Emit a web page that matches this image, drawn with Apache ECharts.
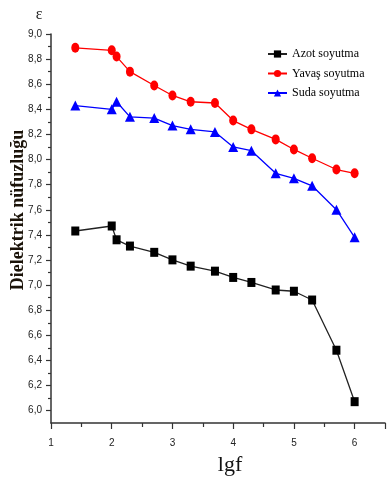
<!DOCTYPE html>
<html>
<head>
<meta charset="utf-8">
<script src="https://cdn.jsdelivr.net/npm/echarts@6/dist/echarts.min.js"></script>
<style>
  html, body { margin: 0; padding: 0; background: #fff; }
  #chart { width: 388px; height: 483px; }
</style>
</head>
<body>
<div id="chart"></div>
<script>
// log10 of the measurement frequency (Hz)
const lgf = [1.4, 2.0, 2.08, 2.3, 2.7, 3.0, 3.3, 3.7, 4.0, 4.3, 4.7, 5.0, 5.3, 5.7, 6.0];

// dielectric permittivity for each cooling regime
const azot  = [7.43, 7.47, 7.36, 7.31, 7.26, 7.20, 7.15, 7.11, 7.06, 7.02, 6.96, 6.95, 6.88, 6.48, 6.07];
const yavas = [8.89, 8.87, 8.82, 8.70, 8.59, 8.51, 8.46, 8.45, 8.31, 8.24, 8.16, 8.08, 8.01, 7.92, 7.89];
const suda  = [8.43, 8.40, 8.46, 8.34, 8.33, 8.27, 8.24, 8.22, 8.10, 8.07, 7.89, 7.85, 7.79, 7.60, 7.38];

const seriesNames = ['Azot soyutma', 'Yavaş soyutma', 'Suda soyutma'];
const xTitle = 'lgf';
const yTitle = 'Dielektrik nüfuzluğu';

const pairs = vals => lgf.map((x, i) => [x, vals[i]]);

const labelFont = { fontFamily: '"Liberation Sans", Arial, sans-serif', fontSize: 10, color: '#222' };
const serif = '"Liberation Serif", "Times New Roman", serif';

const chart = echarts.init(document.getElementById('chart'), null, { renderer: 'canvas' });

chart.setOption({
  animation: false,
  backgroundColor: '#fff',
  grid: [
    // plotting area, y runs down to 5.9 where the x axis sits
    { left: 51, top: 34, width: 345, height: 389, containLabel: false },
    // scale carrier for the labelled y ticks (6,0 … 9,0)
    { left: 51, top: 34, width: 345, height: 376.7, containLabel: false }
  ],
  graphic: [
    {
      type: 'text',
      x: 18, y: 210,
      rotation: Math.PI / 2,
      style: {
        text: yTitle,
        fontFamily: serif, fontSize: 18, fontWeight: 'bold',
        fill: '#1a1208',
        align: 'center', verticalAlign: 'middle'
      }
    },
    {
      type: 'text',
      x: 230, y: 465,
      style: {
        text: xTitle,
        fontFamily: serif, fontSize: 22,
        fill: '#111',
        align: 'center', verticalAlign: 'middle'
      }
    }
  ],
  legend: {
    data: seriesNames,
    orient: 'vertical',
    left: 267,
    top: 48,
    padding: 0,
    itemWidth: 19,
    itemHeight: 9,
    itemGap: 7.5,
    textStyle: { fontFamily: serif, fontSize: 12, color: '#000' }
  },
  xAxis: [
    {
      gridIndex: 0,
      type: 'value',
      min: 1,
      max: 6.5,
      interval: 1,
      axisLine: { show: true, onZero: false, lineStyle: { color: '#333', width: 1.5 } },
      axisTick: { show: true, inside: false, length: 6, lineStyle: { color: '#333', width: 1.2 } },
      minorTick: { show: true, splitNumber: 2, length: 4, lineStyle: { color: '#333', width: 1.2 } },
      splitLine: { show: false },
      axisLabel: Object.assign({
        margin: 15,
        formatter: v => Number.isInteger(v) && v <= 6 ? String(v) : ''
      }, labelFont)
    },
    { gridIndex: 1, type: 'value', min: 1, max: 6.5, show: false }
  ],
  yAxis: [
    {
      gridIndex: 0,
      type: 'value',
      min: 5.9,
      max: 9.0,
      axisLine: { show: true, onZero: false, lineStyle: { color: '#333', width: 1.5 } },
      axisTick: { show: false },
      axisLabel: { show: false },
      splitLine: { show: false },
      name: 'ε',
      nameLocation: 'end',
      nameGap: 0,
      nameTextStyle: { fontFamily: serif, fontSize: 16, color: '#222', padding: [0, 0, 11, -24] }
    },
    {
      gridIndex: 1,
      type: 'value',
      min: 6.0,
      max: 9.0,
      interval: 0.2,
      axisLine: { show: false },
      axisTick: { show: true, length: 5, lineStyle: { color: '#333', width: 1.2 } },
      minorTick: { show: true, splitNumber: 2, length: 3, lineStyle: { color: '#333', width: 1.2 } },
      splitLine: { show: false },
      axisLabel: Object.assign({
        margin: 9,
        formatter: v => v.toFixed(1).replace('.', ',')
      }, labelFont)
    }
  ],
  series: [
    {
      name: seriesNames[0],
      type: 'line',
      xAxisIndex: 0, yAxisIndex: 0,
      data: pairs(azot),
      symbol: 'rect',
      symbolSize: [8, 9],
      lineStyle: { color: '#222', width: 1.3 },
      itemStyle: { color: '#000' }
    },
    {
      name: seriesNames[1],
      type: 'line',
      xAxisIndex: 0, yAxisIndex: 0,
      data: pairs(yavas),
      symbol: 'circle',
      symbolSize: [8, 10],
      lineStyle: { color: '#ff0000', width: 1.3 },
      itemStyle: { color: '#ff0000' }
    },
    {
      name: seriesNames[2],
      type: 'line',
      xAxisIndex: 0, yAxisIndex: 0,
      data: pairs(suda),
      symbol: 'triangle',
      symbolSize: [10, 10],
      lineStyle: { color: '#0000ff', width: 1.3 },
      itemStyle: { color: '#0000ff' }
    }
  ]
});
</script>
</body>
</html>
